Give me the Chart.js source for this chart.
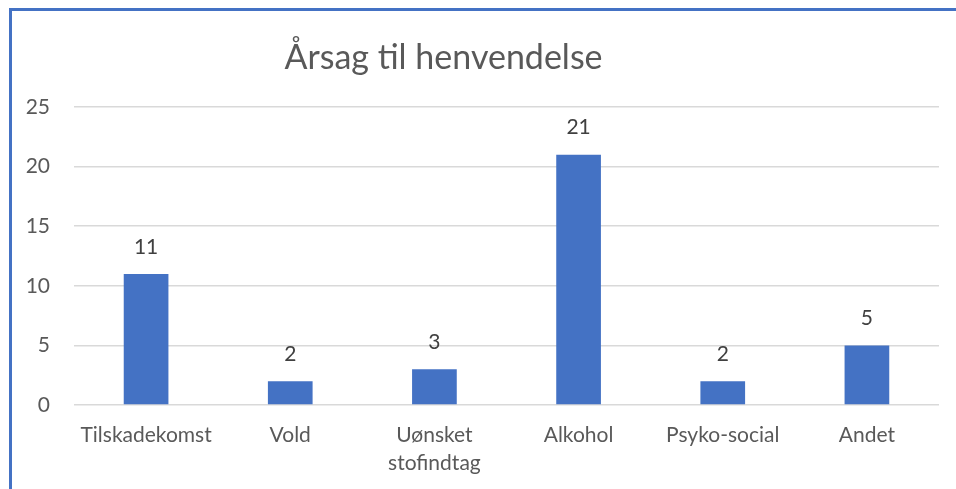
<!DOCTYPE html>
<html>
<head>
<meta charset="utf-8">
<script src="https://cdn.jsdelivr.net/npm/chart.js@4.4.1/dist/chart.umd.min.js"></script>
<style>
    html, body {
        margin: 0;
        padding: 0;
        background: #ffffff;
    }
    #wrap {
        position: relative;
        width: 956px;
        height: 489px;
    }
    /* blue frame visible on top and left only */
    #frame {
        position: absolute;
        left: 9px;
        top: 8px;
        right: -10px;
        bottom: -10px;
        border-top: 3px solid #4472C4;
        border-left: 3px solid #4472C4;
        pointer-events: none;
    }
</style>
</head>
<body>
<div id="wrap">
    <canvas id="reasonChart" width="956" height="489"></canvas>
    <div id="frame"></div>
</div>
<script>
// Årsag til henvendelse - data
const categories = ['Tilskadekomst', 'Vold', ['Uønsket', 'stofindtag'], 'Alkohol', 'Psyko-social', 'Andet'];
const counts = [11, 2, 3, 21, 2, 5];
const yTicks = [0, 5, 10, 15, 20, 25];

const FONT = 'Lato, "Open Sans", sans-serif';

/* ========================================
   Value labels above the bars
   ======================================== */
const valueLabels = {
    id: 'valueLabels',
    afterDatasetsDraw(chart) {
        const ctx = chart.ctx;
        const meta = chart.getDatasetMeta(0);
        ctx.save();
        ctx.font = '21px ' + FONT;
        ctx.fillStyle = '#404040';
        ctx.textAlign = 'center';
        ctx.textBaseline = 'middle';
        meta.data.forEach(function(bar, i) {
            ctx.fillText(String(counts[i]), bar.x, bar.y - 27);
        });
        ctx.restore();
    }
};

// the title sits a little left of the full-width centre, as in the original
const titleShift = {
    id: 'titleShift',
    afterLayout(chart) {
        if (chart.titleBlock) {
            chart.titleBlock.right = 887;
        }
    }
};

const ctx = document.getElementById('reasonChart');

new Chart(ctx, {
    type: 'bar',
    data: {
        labels: categories,
        datasets: [{
            label: 'Antal',
            data: counts,
            backgroundColor: '#4472C4',
            borderWidth: 0,
            categoryPercentage: 1,
            barPercentage: 0.31
        }]
    },
    options: {
        responsive: false,
        animation: false,
        layout: {
            padding: { left: 0, right: 17, top: 0, bottom: 14 }
        },
        plugins: {
            legend: { display: false },
            tooltip: { enabled: false },
            title: {
                display: true,
                text: 'Årsag til henvendelse',
                color: '#595959',
                font: { family: FONT, size: 34, weight: 'normal' },
                padding: { top: 37.6, bottom: 28.6 }
            }
        },
        scales: {
            x: {
                afterFit: function(scale) { scale.height = 70; },
                grid: { display: false, drawTicks: false },
                border: { display: false },
                ticks: {
                    color: '#595959',
                    font: { family: FONT, size: 21, lineHeight: 1.33 },
                    padding: 16,
                    maxRotation: 0,
                    autoSkip: false
                }
            },
            y: {
                min: 0,
                max: 25,
                afterFit: function(scale) { scale.width = 74; },
                afterBuildTicks: function(scale) {
                    scale.ticks = yTicks.map(v => ({ value: v }));
                },
                grid: { color: '#D9D9D9', lineWidth: 1.5, drawTicks: false },
                border: { display: false },
                ticks: {
                    color: '#595959',
                    font: { family: FONT, size: 21 },
                    padding: 24
                }
            }
        }
    },
    plugins: [valueLabels, titleShift]
});
</script>
</body>
</html>
